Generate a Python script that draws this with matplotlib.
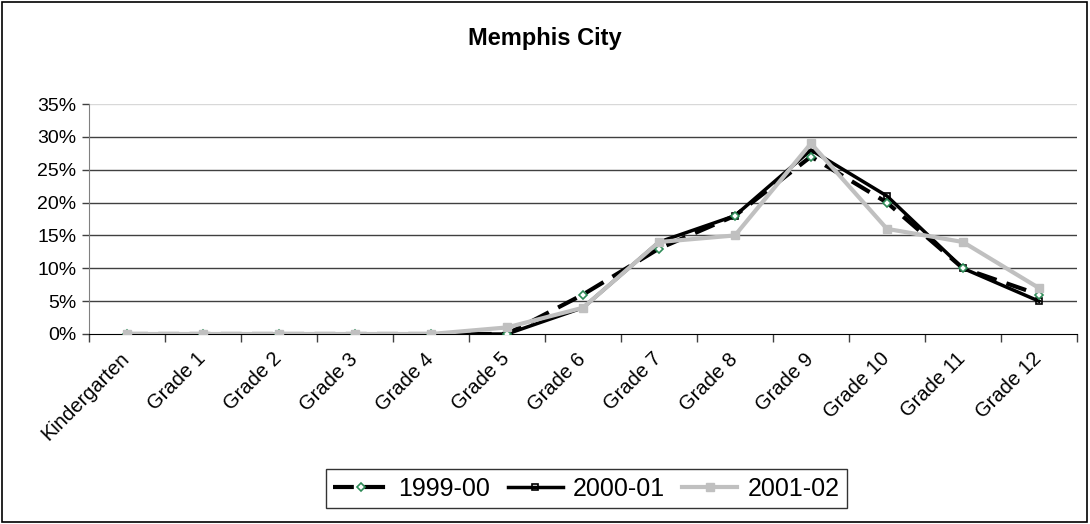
import numpy as np
import matplotlib
matplotlib.use('Agg')
import matplotlib.pyplot as plt
import matplotlib.transforms as mtransforms
from matplotlib.ticker import FuncFormatter
from matplotlib.patches import Rectangle

plt.rcParams['font.family'] = ['Liberation Sans', 'DejaVu Sans']

grades = ['Kindergarten', 'Grade 1', 'Grade 2', 'Grade 3', 'Grade 4', 'Grade 5',
          'Grade 6', 'Grade 7', 'Grade 8', 'Grade 9', 'Grade 10', 'Grade 11', 'Grade 12']
y1999 = [0, 0, 0, 0, 0, 0, 6, 13, 18, 27, 20, 10, 6]
y2000 = [0, 0, 0, 0, 0, 0, 4, 14, 18, 28, 21, 10, 5]
y2001 = [0, 0, 0, 0, 0, 1, 4, 14, 15, 29, 16, 14, 7]

fig = plt.figure(figsize=(10.9, 5.24), dpi=100)
ax = fig.add_axes([0.0817, 0.3626, 0.9063, 0.4389])
x = np.arange(len(grades))

# gridlines
for v in range(5, 35, 5):
    ax.axhline(v, color='#404040', lw=1, zorder=0)
ax.axhline(35, color='#d8d8d8', lw=1, zorder=0)

ax.plot(x, y1999, color='black', lw=3, dashes=(5, 2.5), marker='D', ms=4,
        mfc='white', mec='#2e8b57', mew=1.2, label='1999-00', zorder=3)
ax.plot(x, y2000, color='black', lw=2.5, marker='s', ms=5,
        mfc='none', mec='black', mew=1.2, label='2000-01', zorder=2)
ax.plot(x, y2001, color='#c0c0c0', lw=3, marker='s', ms=6,
        mfc='#c0c0c0', mec='#c0c0c0', label='2001-02', zorder=4)

ax.set_xlim(-0.5, len(grades) - 0.5)
ax.set_ylim(0, 35)
ax.set_yticks(range(0, 40, 5))
ax.yaxis.set_major_formatter(FuncFormatter(lambda v, p: f'{int(v)}%'))
ax.tick_params(axis='y', labelsize=14, length=5, width=1, color='#404040', pad=4)

ax.set_xticks(x)
ax.set_xticklabels(grades, rotation=45, ha='right', rotation_mode='anchor', fontsize=14.5)
ax.set_xticks(np.arange(-0.5, len(grades), 1), minor=True)
ax.tick_params(axis='x', which='major', length=0, pad=11)
ax.tick_params(axis='x', which='minor', length=6, width=1, color='#404040')
shift = mtransforms.ScaledTranslation(-7 / 100, 0, fig.dpi_scale_trans)
for lbl in ax.get_xticklabels():
    lbl.set_transform(lbl.get_transform() + shift)

for s in ['top', 'right']:
    ax.spines[s].set_visible(False)
ax.spines['left'].set_color('#808080')
ax.spines['bottom'].set_color('black')

fig.text(0.5, 0.927, 'Memphis City', fontsize=17, fontweight='bold', ha='center', va='center')

leg = fig.legend(loc='center', bbox_to_anchor=(0.538, 0.0668), ncol=3, fontsize=18,
                 frameon=True, fancybox=False, edgecolor='black', handlelength=2.2,
                 handletextpad=0.4, columnspacing=0.7, borderpad=0.3)
leg.get_frame().set_linewidth(1)

fig.patches.append(Rectangle((0.002, 0.004), 0.995, 0.992, transform=fig.transFigure,
                             fill=False, edgecolor='black', lw=1.2))

fig.savefig('out.png', dpi=100)
